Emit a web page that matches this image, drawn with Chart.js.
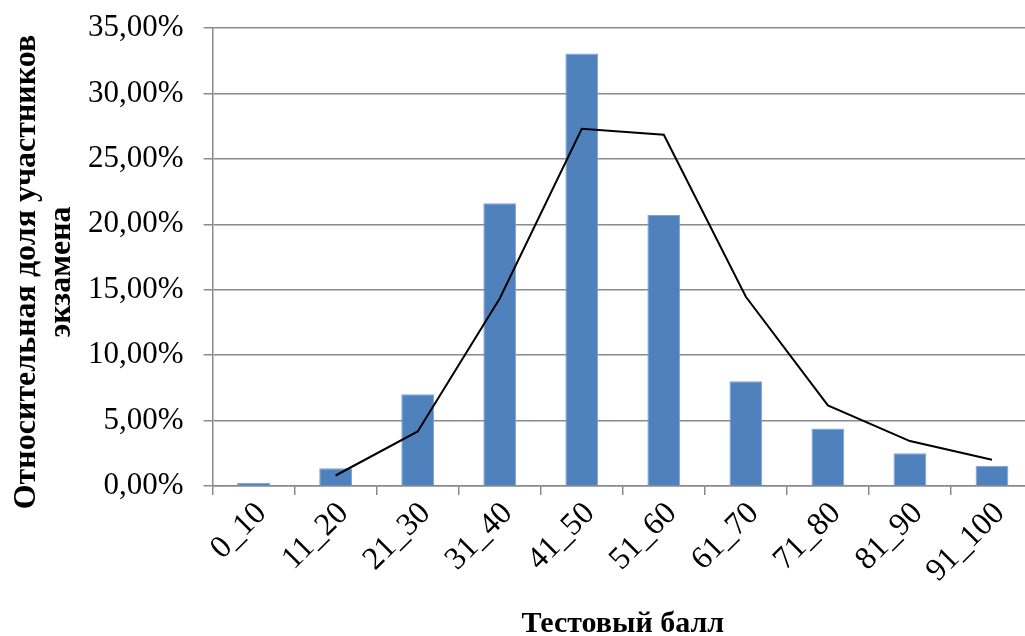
<!DOCTYPE html>
<html lang="ru">
<head>
<meta charset="utf-8">
<title>Тестовый балл</title>
<script src="https://cdn.jsdelivr.net/npm/chart.js@4/dist/chart.umd.min.js"></script>
<style>
  html, body { margin: 0; padding: 0; background: #fff; overflow: hidden; }
  #wrap { position: absolute; left: 0; top: 0; width: 1033px; height: 636px; }
</style>
</head>
<body>
<div id="wrap"><canvas id="c" width="1033" height="636"></canvas></div>
<script>
// Score bands
const categories = ['0_10', '11_20', '21_30', '31_40', '41_50', '51_60', '61_70', '71_80', '81_90', '91_100'];
// Share of exam participants per band, %
const shareBars = [0.25, 1.35, 7.00, 21.60, 33.05, 20.70, 8.00, 4.40, 2.50, 1.55];
// Comparison curve, % (no value for the first band)
const shareLine = [null, 0.80, 4.17, 14.33, 27.30, 26.84, 14.46, 6.16, 3.43, 2.00];
// Value axis ticks, %
const yTicks = [0, 5, 10, 15, 20, 25, 30, 35];

const yTitleLines = ['Относительная доля участников', 'экзамена'];
const xTitle = 'Тестовый балл';

const serif = "'Liberation Serif', 'Times New Roman', serif";
const gridGrey = '#8a8a8a';

// Rotated two-line title for the value axis
const yTitlePlugin = {
  id: 'yTitle',
  afterDraw(chart) {
    const ctx = chart.ctx;
    ctx.save();
    ctx.font = 'bold 32px ' + serif;
    ctx.fillStyle = '#000';
    ctx.textAlign = 'center';
    ctx.textBaseline = 'alphabetic';
    const cy = 272;
    const baselines = [35, 70];
    yTitleLines.forEach((line, i) => {
      ctx.save();
      ctx.translate(baselines[i], cy);
      ctx.rotate(-Math.PI / 2);
      ctx.fillText(line, 0, 0);
      ctx.restore();
    });
    ctx.restore();
  }
};

new Chart(document.getElementById('c'), {
  data: {
    labels: categories,
    datasets: [
      {
        type: 'line',
        data: shareLine,
        borderColor: '#000',
        borderWidth: 2,
        pointRadius: 0,
        tension: 0,
        spanGaps: false,
        order: 0
      },
      {
        type: 'bar',
        data: shareBars,
        backgroundColor: '#4f81bd',
        borderColor: '#7fa3d1',
        borderWidth: 1,
        barPercentage: 0.4,
        categoryPercentage: 1,
        order: 1
      }
    ]
  },
  options: {
    responsive: false,
    animation: false,
    layout: { padding: { left: 68, top: 28, right: 0, bottom: -6 } },
    plugins: {
      legend: { display: false },
      tooltip: { enabled: false }
    },
    scales: {
      x: {
        offset: true,
        grid: {
          display: true,
          offset: true,
          drawOnChartArea: false,
          color: gridGrey,
          lineWidth: 1.5,
          tickLength: 9
        },
        border: { color: gridGrey, width: 1.5 },
        ticks: {
          color: '#000',
          font: { family: serif, size: 32 },
          minRotation: 45,
          maxRotation: 45,
          padding: 0,
          labelOffset: 8,
          autoSkip: false
        },
        title: {
          display: true,
          text: xTitle,
          color: '#000',
          font: { family: serif, size: 30, weight: 'bold' },
          padding: { top: 16, bottom: 0 }
        }
      },
      y: {
        min: 0,
        max: 35,
        afterBuildTicks(scale) {
          scale.ticks = yTicks.map(v => ({ value: v }));
        },
        // the layout sets the plot edges directly
        afterFit(scale) {
          scale.paddingTop = 0;
          scale.paddingBottom = 0;
        },
        grid: {
          color: gridGrey,
          lineWidth: 1.5,
          tickLength: 9
        },
        border: { color: gridGrey, width: 1.5 },
        ticks: {
          color: '#000',
          font: { family: serif, size: 31 },
          padding: 20,
          callback: v => v.toFixed(2).replace('.', ',') + '%'
        }
      }
    }
  },
  plugins: [yTitlePlugin]
});
</script>
</body>
</html>
